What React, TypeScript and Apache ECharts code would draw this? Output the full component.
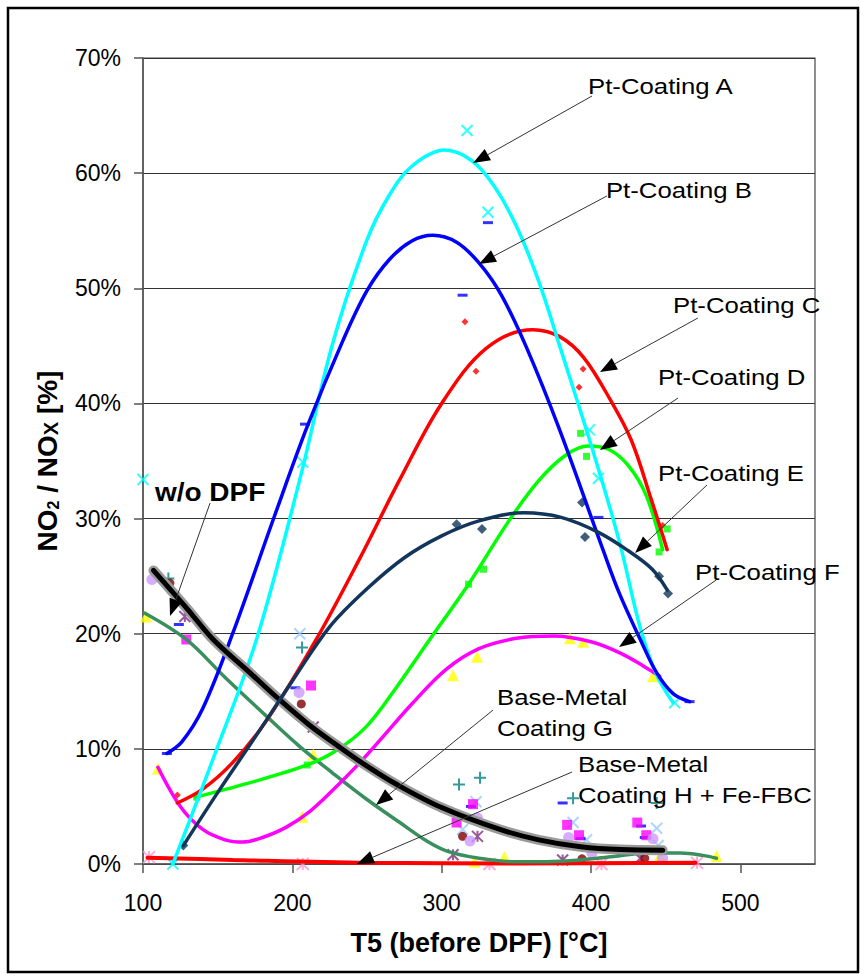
import React, { useEffect, useRef } from "react";
import * as echarts from "echarts";

const FONT = '"Liberation Sans", Arial, Helvetica, sans-serif';

// ---- Axis ticks ----
const xTicks = [100, 200, 300, 400, 500];

// ---- Trendline curves: [T5 °C, NO2/NOx %] ----
const curvePtA = [[120, 0], [148, 9.5], [176, 19.5], [205, 33.4], [227, 45.2], [250, 54.2], [265, 58.1], [280, 60.6], [302, 62], [320, 61.1], [335, 58.9], [350, 55.4], [365, 50.6], [379, 45], [401, 36], [419, 28], [433, 20.5], [444, 16.4], [455, 14]];
const curvePtB = [[116, 9.6], [126, 10.6], [140, 13.5], [160, 20], [188, 30.2], [210, 38], [234, 45.5], [250, 49.8], [265, 52.5], [280, 54.1], [294, 54.6], [310, 54.0], [325, 52.2], [340, 49.4], [357, 44.8], [379, 37.7], [408, 27.3], [419, 23.5], [433, 19.5], [444, 16.6], [455, 14.8], [466, 14.1]];
const curvePtC = [[123, 5.3], [140, 6.5], [160, 8.8], [183, 12.5], [216, 19.5], [245, 26.5], [272, 33.4], [300, 40], [330, 44.8], [361, 46.4], [379, 45.8], [395, 44], [413, 40.3], [427, 36.8], [440, 31.8], [451, 27.3]];
const curvePtD = [[135, 5.8], [170, 7], [210, 8.6], [230, 9.9], [250, 12], [270, 15.4], [292, 19.5], [318, 24.3], [345, 29.8], [365, 33.3], [383, 35.5], [398, 36.3], [412, 36.0], [425, 34.6], [437, 32], [448, 27.3]];
const curvePtE = [[127, 1.6], [150, 6.2], [175, 11], [200, 15.9], [225, 20.6], [250, 23.9], [275, 26.6], [300, 28.5], [325, 29.8], [355, 30.5], [380, 30.1], [405, 28.8], [425, 27.2], [441, 25.6], [451, 23.8]];
const curvePtF = [[110, 8.4], [125, 5], [140, 3], [155, 2.1], [167, 1.9], [180, 2.3], [196, 3.2], [212, 4.6], [227, 6.4], [243, 8.5], [259, 10.8], [280, 13.9], [303, 16.9], [325, 18.7], [350, 19.6], [375, 19.8], [400, 19.3], [420, 18.3], [435, 17.2], [446, 16.3]];
const curveNoDpf = [[107, 25.5], [130, 22.1], [147, 19.5], [170, 16.8], [192, 14.2], [212, 12], [230, 10.3], [250, 8.5], [270, 6.9], [300, 4.9], [339, 3.0], [365, 2.1], [393, 1.5], [420, 1.25], [448, 1.2]];
const curveBmG = [[101, 21.8], [129, 19.5], [155, 16.2], [183, 12.8], [205, 10.2], [227, 7.9], [250, 5.6], [272, 3.6], [290, 2.0], [304, 1.1], [325, 0.5], [348, 0.2], [370, 0.2], [393, 0.35], [415, 0.65], [438, 0.95], [460, 0.95], [475, 0.75], [484, 0.5]];
const curveBmH = [[103, 0.55], [160, 0.35], [250, 0.1], [350, 0.05], [470, 0.1]];

// ---- Measured points ----
const ptsCyanX = [[100, 33.4], [120, 0], [207, 34.9], [317, 63.7], [331, 56.6], [399, 37.7], [405, 33.5], [456, 14]];
const ptsBlueDash = [[116, 9.6], [124, 20.8], [208.5, 38.2], [314, 49.4], [331, 55.7], [405, 30.1], [202, 15.3], [319.6, 5.0], [313.6, 4.0], [381, 5.3], [393, 2.2], [433.5, 3.3], [436, 2.3], [466, 14.1]];
const ptsRedDiamond = [[123, 6], [315.6, 47.1], [323, 42.8], [394.7, 43], [392, 41.4], [448, 29.4]];
const ptsGreenSquare = [[136, 5.8], [210, 8.6], [318, 24.3], [328, 25.6], [393, 37.4], [397, 35.4], [445.6, 27.1], [451, 29.1]];
const ptsNavyDiamond = [[127, 1.6], [310, 29.5], [327, 29.1], [394, 31.4], [396, 28.4], [445.6, 25], [451.6, 23.5]];
const ptsYellowTri = [[102, 21.5], [110, 8.3], [206.5, 4.1], [214, 9.5], [307.6, 16.4], [323.7, 18], [322, 0.2], [342, 0.6], [386, 19.6], [394.7, 19.3], [441.5, 16.3], [446, 0.7], [484, 0.7]];
const ptsMagentaSq = [[129, 19.5], [212.5, 15.5], [310, 3.6], [321, 5.2], [384, 3.4], [392, 2.5], [431, 3.6], [437, 2.5]];
const ptsLightBlueX = [[205, 20.0], [323, 5.4], [314, 3.0], [388, 3.6], [397, 2.1], [444, 3.1], [445, 1.6]];
const ptsTealPlus = [[117, 24.8], [206.5, 18.8], [311.6, 6.9], [325.7, 7.5], [388, 5.7], [444, 5.3]];
const ptsPurpleAst = [[128, 21.5], [214, 11.9], [324, 2.4], [307.6, 0.8], [381, 0.35], [433, 0.5]];
const ptsDarkRedCirc = [[118, 24.4], [206, 13.9], [314, 2.4], [394, 0.45], [436, 0.5]];
const ptsLilacCirc = [[106, 24.7], [204.5, 14.9], [319, 2.0], [324, 4.0], [385, 2.3], [400.6, 0.95], [441.5, 2.2], [448, 0.5]];
const ptsPinkAst = [[104, 0.6], [207, 0], [332, 0], [407, 0], [471, 0.1]];

// ---- Annotations (data coordinates): text anchor (left, middle), arrow start, arrow tip ----
const annLabels = ["Pt-Coating A", "Pt-Coating B", "Pt-Coating C", "Pt-Coating D", "Pt-Coating E", "Pt-Coating F", "Base-Metal\nCoating G", "Base-Metal\nCoating H + Fe-FBC", "w/o DPF"];
const annText = [[398.0, 67.57], [410.0, 58.54], [454.9, 48.55], [444.9, 42.3], [444.9, 33.96], [469.7, 25.36], [337.1, 13.16], [391.3, 7.38], [108.0, 32.22]];
const annFrom = [[400.7, 66.7], [410.7, 58.02], [471.6, 47.42], [458.3, 40.47], [477.7, 32.92], [483.9, 24.67], [334.4, 13.37], [387.3, 7.99], [144.9, 31.35]];
const annTo = [[321.0, 60.88], [325.0, 52.11], [406.0, 42.73], [406.0, 35.96], [429.5, 27.01], [418.8, 18.85], [256.0, 5.12], [243.3, 0.0], [118.1, 21.54]];
const annBold = [false, false, false, false, false, false, false, false, true];

const X_PATH = "path://M0,0L10,10M10,0L0,10";
const PLUS_PATH = "path://M5,0L5,10M0,5L10,5";
const AST_PATH = "path://M0,0L10,10M10,0L0,10M5,0L5,10";

function curve(data: number[][], color: string, width: number, z: number) {
  return {
    type: "line",
    data,
    smooth: 0.35,
    showSymbol: false,
    symbol: "none",
    silent: true,
    z,
    lineStyle: { color, width, cap: "round" },
  };
}

function strokeMarks(data: number[][], path: string, color: string, size: number) {
  return {
    type: "scatter",
    data,
    symbol: path,
    symbolSize: size,
    silent: true,
    z: 2,
    itemStyle: { color: "rgba(0,0,0,0)", borderColor: color, borderWidth: 2 },
  };
}

function fillMarks(data: number[][], symbol: string, color: string, size: number | number[]) {
  return {
    type: "scatter",
    data,
    symbol,
    symbolSize: size,
    silent: true,
    z: 2,
    itemStyle: { color },
  };
}

export default function App() {
  const ref = useRef<HTMLDivElement>(null);

  useEffect(() => {
    if (!ref.current) return;
    const chart = echarts.init(ref.current, undefined, { renderer: "svg" });

    const option: any = {
      animation: false,
      backgroundColor: "#ffffff",
      grid: { left: 143, right: 51, top: 58, bottom: 114, show: true, borderColor: "#444", borderWidth: 1.2, backgroundColor: "transparent" },
      xAxis: {
        type: "value",
        min: 100,
        max: 550,
        interval: 100,
        axisLine: { onZero: false, lineStyle: { color: "#555", width: 1.5 } },
        axisTick: { show: true, length: 9, customValues: xTicks, lineStyle: { color: "#555", width: 1.5 } },
        axisLabel: {
          customValues: xTicks,
          formatter: (v: number) => (v === 550 ? "" : String(v)),
          fontSize: 23,
          fontFamily: FONT,
          color: "#000",
          margin: 27,
        },
        splitLine: { show: false },
        name: "T5 (before DPF) [°C]",
        nameLocation: "middle",
        nameGap: 65,
        nameTextStyle: { fontSize: 27, fontWeight: "bold", fontFamily: FONT, color: "#000" },
      },
      yAxis: {
        type: "value",
        min: 0,
        max: 70,
        interval: 10,
        axisLine: { show: true, lineStyle: { color: "#555", width: 1.5 } },
        axisTick: { show: true, length: 9, lineStyle: { color: "#555", width: 1.5 } },
        axisLabel: { formatter: "{value}%", fontSize: 23, fontFamily: FONT, color: "#000", margin: 22 },
        splitLine: { show: true, lineStyle: { color: "#333", width: 1.2 } },
        name: "{a|NO}{s|2}{a| / NO}{x|X}{a| [%]}",
        nameLocation: "middle",
        nameRotate: 90,
        nameGap: 82,
        nameTextStyle: {
          fontFamily: FONT,
          fontWeight: "bold",
          fontSize: 28,
          color: "#000",
          rich: {
            a: { fontFamily: FONT, fontWeight: "bold", fontSize: 28, color: "#000", lineHeight: 32, verticalAlign: "bottom" },
            s: { fontFamily: FONT, fontWeight: "bold", fontSize: 16, color: "#000", lineHeight: 18, verticalAlign: "bottom" },
            x: { fontFamily: FONT, fontWeight: "bold", fontSize: 20, color: "#000", lineHeight: 22, verticalAlign: "bottom" },
          },
        },
      },
      series: [
        strokeMarks(ptsCyanX, X_PATH, "#00FFFF", 11),
        strokeMarks(ptsLightBlueX, X_PATH, "#99CCFF", 11),
        strokeMarks(ptsTealPlus, PLUS_PATH, "#008080", 12),
        strokeMarks(ptsPurpleAst, AST_PATH, "#803080", 11),
        strokeMarks(ptsPinkAst, AST_PATH, "#FF99CC", 12),
        fillMarks(ptsBlueDash, "rect", "#0000FF", [10, 3]),
        fillMarks(ptsRedDiamond, "diamond", "#FF0000", 7),
        fillMarks(ptsGreenSquare, "rect", "#00FF00", 7),
        fillMarks(ptsNavyDiamond, "diamond", "#12355B", 10),
        fillMarks(ptsYellowTri, "triangle", "#FFFF00", 12),
        fillMarks(ptsMagentaSq, "rect", "#FF00FF", 10),
        fillMarks(ptsDarkRedCirc, "circle", "#800000", 9),
        fillMarks(ptsLilacCirc, "circle", "#CC99FF", 11),
        curve(curveBmH, "#FF0000", 4, 3),
        curve(curveBmG, "#3A8F5E", 3.5, 3),
        curve(curvePtF, "#FF00FF", 3.5, 3),
        curve(curvePtD, "#00FF00", 3.5, 3),
        curve(curvePtC, "#FF0000", 3.5, 3),
        curve(curvePtA, "#00FFFF", 3.5, 3),
        curve(curvePtB, "#0000FF", 3.5, 3),
        curve(curveNoDpf, "#9a9a9a", 10, 4),
        curve(curveNoDpf, "#000000", 5, 5),
        curve(curvePtE, "#12355B", 3.5, 6),
      ],
    };

    chart.setOption(option);

    const toPx = (p: number[]) => chart.convertToPixel({ gridIndex: 0 } as any, p) as number[];
    const elements: any[] = [
      {
        type: "rect",
        z: 200,
        silent: true,
        shape: { x: 8, y: 8, width: 850, height: 964 },
        style: { fill: "none", stroke: "#000", lineWidth: 2.5 },
      },
    ];
    annLabels.forEach((label, i) => {
      const t = toPx(annText[i]);
      const a = toPx(annFrom[i]);
      const b = toPx(annTo[i]);
      const dx = b[0] - a[0];
      const dy = b[1] - a[1];
      const len = Math.sqrt(dx * dx + dy * dy) || 1;
      const ux = dx / len;
      const uy = dy / len;
      const L = 17;
      const W = 6.5;
      const bx = b[0] - ux * L;
      const by = b[1] - uy * L;
      elements.push({
        type: "line",
        z: 100,
        silent: true,
        shape: { x1: a[0], y1: a[1], x2: bx, y2: by },
        style: { stroke: "#333", lineWidth: 1 },
      });
      elements.push({
        type: "polygon",
        z: 100,
        silent: true,
        shape: { points: [[b[0], b[1]], [bx - uy * W, by + ux * W], [bx + uy * W, by - ux * W]] },
        style: { fill: "#000" },
      });
      const bold = annBold[i];
      elements.push({
        type: "text",
        z: 101,
        silent: true,
        x: t[0],
        y: t[1],
        scaleX: 1.12,
        style: {
          text: label,
          font: `${bold ? "bold " : ""}${bold ? 25 : 23}px ${FONT}`,
          fill: "#000",
          align: "left",
          textAlign: "left",
          verticalAlign: "middle",
          textVerticalAlign: "middle",
          lineHeight: 31,
        },
      });
    });
    chart.setOption({ graphic: { elements } });

    return () => chart.dispose();
  }, []);

  return <div ref={ref} style={{ position: "fixed", left: 0, top: 0, width: 866, height: 978 }} />;
}
